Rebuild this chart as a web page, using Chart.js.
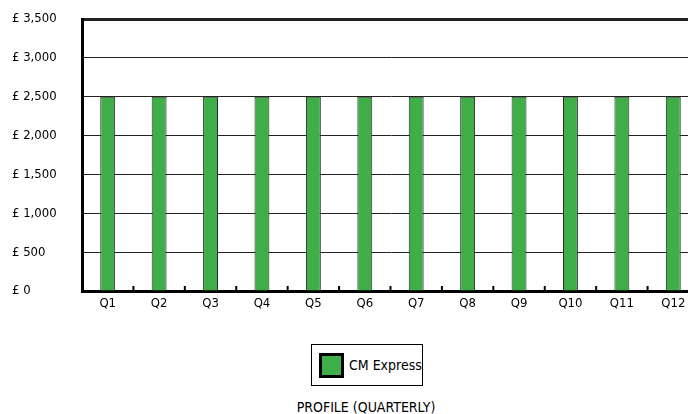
<!DOCTYPE html>
<html>
<head>
<meta charset="utf-8">
<script src="https://cdn.jsdelivr.net/npm/chart.js@4"></script>
<style>
  html, body { margin: 0; padding: 0; background: #fff; }
  body { font-family: 'Liberation Sans Narrow', 'DejaVu Sans Condensed', sans-serif; }
  #wrap { position: relative; width: 688px; height: 414px; overflow: hidden; }
  #chartBox { position: absolute; left: 0; top: 0; width: 700px; height: 320px; }
  #legend {
    position: absolute; left: 311px; top: 344px; width: 110px; height: 40px;
    border: 1px solid #000; display: flex; align-items: center; box-sizing: content-box;
  }
  #legend .swatch {
    width: 19px; height: 19px; border: 3px solid #000; background: #3fae49; margin-left: 7px;
  }
  #legend .label { margin-left: 5px; font-size: 14px; color: #000; }
  #title {
    position: absolute; left: 266px; width: 200px; top: 399px; text-align: center;
    font-size: 14px; color: #000;
  }
</style>
</head>
<body>
<div id="wrap">
  <div id="chartBox"><canvas id="myChartProfile" width="700" height="320"></canvas></div>
  <div id="legend"><div class="swatch"></div><div class="label" id="legendLabel"></div></div>
  <div id="title">PROFILE (QUARTERLY)</div>
</div>
<script>
// Datos del gráfico
const quarters = ['Q1', 'Q2', 'Q3', 'Q4', 'Q5', 'Q6', 'Q7', 'Q8', 'Q9', 'Q10', 'Q11', 'Q12'];
const cmExpress = [2500, 2500, 2500, 2500, 2500, 2500, 2500, 2500, 2500, 2500, 2500, 2500];
const seriesName = 'CM Express';
const yMax = 3500;
const yStep = 500;

const fontFamily = "'Liberation Sans Narrow', 'DejaVu Sans Condensed', sans-serif";

// marcas pequeñas entre categorías, hacia arriba desde el eje x
const innerTicks = {
    id: 'innerTicks',
    afterDatasetsDraw(chart) {
        const x = chart.scales.x;
        const bottom = chart.chartArea.bottom;
        const ctx = chart.ctx;
        ctx.save();
        ctx.strokeStyle = '#000';
        ctx.lineWidth = 2;
        for (let i = 1; i < quarters.length; i++) {
            const px = (x.getPixelForValue(i - 1) + x.getPixelForValue(i)) / 2;
            ctx.beginPath();
            ctx.moveTo(px, bottom);
            ctx.lineTo(px, bottom - 5);
            ctx.stroke();
        }
        ctx.restore();
    }
};

document.getElementById('legendLabel').textContent = seriesName;

const ctxProfile = document.getElementById('myChartProfile').getContext('2d');
const myChartProfile = new Chart(ctxProfile, {
    type: 'bar',
    data: {
        labels: quarters,
        datasets: [{
            label: seriesName,
            data: cmExpress,
            backgroundColor: '#3fae49',
            borderColor: '#2b2b2b',
            borderWidth: 1,
            barPercentage: 0.29,
            categoryPercentage: 1.0
        }]
    },
    options: {
        responsive: false,
        animation: false,
        layout: { padding: { left: 12, top: 19, right: 1, bottom: 0 } },
        plugins: {
            legend: { display: false },
            tooltip: { enabled: false }
        },
        scales: {
            x: {
                grid: { display: false, drawTicks: false },
                border: { color: '#000', width: 3 },
                ticks: { color: '#000', padding: 5, font: { family: fontFamily, size: 13 } },
                afterFit(scale) { scale.height = 29; }
            },
            y: {
                min: 0,
                max: yMax,
                grid: {
                    color: '#222',
                    lineWidth: c => (c.tick && c.tick.value === yMax ? 3 : 1),
                    drawTicks: false
                },
                border: { color: '#000', width: 3 },
                ticks: {
                    stepSize: yStep,
                    color: '#000',
                    crossAlign: 'far',
                    padding: 0,
                    font: { family: fontFamily, size: 13 },
                    callback: v => '£ ' + v.toLocaleString('en-GB')
                },
                afterFit(scale) { scale.width = 70; }
            }
        }
    },
    plugins: [innerTicks]
});
</script>
</body>
</html>
